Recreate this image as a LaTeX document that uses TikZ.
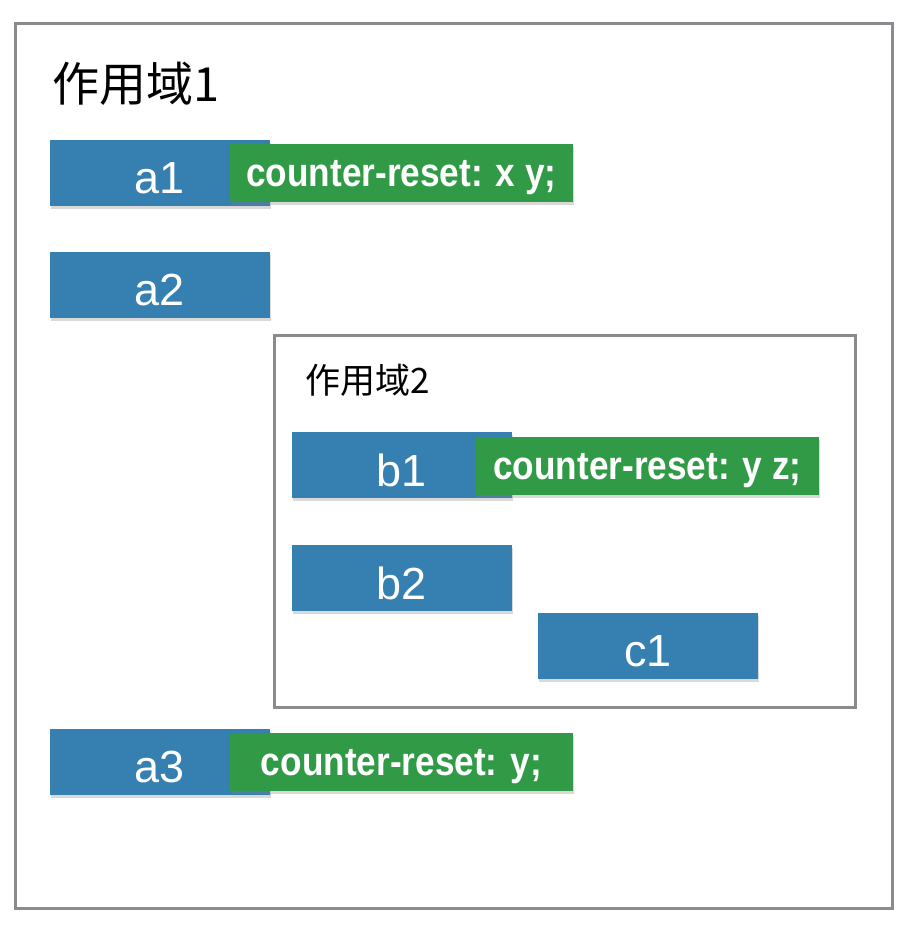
\documentclass[tikz,border=0pt]{standalone}
\usepackage{fontspec}
\setmainfont{Liberation Sans}
\newfontfamily\cjk{Noto Sans CJK SC}
\usetikzlibrary{shadows}
\definecolor{boxblue}{HTML}{3680B1}
\definecolor{boxgreen}{HTML}{319A47}
\definecolor{framegray}{HTML}{898B8F}
\tikzset{
  frame/.style={draw=framegray, line width=3pt},
  bluebox/.style={fill=boxblue, minimum width=220pt, minimum height=66pt, inner sep=0pt,
    text=white, font=\fontsize{45}{45}\selectfont,
    drop shadow={opacity=0.3, shadow xshift=1pt, shadow yshift=-3pt}},
  greenbox/.style={fill=boxgreen, minimum width=343pt, minimum height=58pt, inner sep=0pt,
    text=white, font=\bfseries\fontsize{40}{40}\selectfont,
    drop shadow={opacity=0.3, shadow xshift=1pt, shadow yshift=-3pt}},
  scopetitle/.style={anchor=west, inner sep=0pt, text=black},
}
\newcommand{\lbl}[1]{\raisebox{-5pt}[\height][\depth]{#1}}
\newcommand{\narrow}[1]{\raisebox{-5pt}[\height][\depth]{\scalebox{0.88}[1]{#1}}}
\begin{document}
\begin{tikzpicture}[x=1pt,y=-1pt]
\useasboundingbox (0,0) rectangle (910,935);
\draw[frame] (15,23) rectangle (892,908);
\node[scopetitle, font=\cjk\fontsize{47}{47}\selectfont] (t1) at (52,84) {作用域1};

\node[bluebox] (a1) at (160,173) {\lbl{a1}};
\node[greenbox] (ga1) at (401.5,173) {\narrow{counter-reset: x y;}};

\node[bluebox] (a2) at (160,285) {\lbl{a2}};

\draw[frame] (274,335) rectangle (855,707);
\node[scopetitle, font=\cjk\fontsize{35}{35}\selectfont] (t2) at (305,380) {作用域2};

\node[bluebox] (b1) at (402,465) {\lbl{b1}};
\node[greenbox] (gb1) at (647.5,465.5) {\narrow{counter-reset: y z;}};
\node[bluebox] (b2) at (402,578) {\lbl{b2}};
\node[bluebox] (c1) at (648,646) {\lbl{c1}};

\node[bluebox] (a3) at (160,761.5) {\lbl{a3}};
\node[greenbox] (ga3) at (401.5,761.5) {\narrow{counter-reset: y;}};
\end{tikzpicture}
\end{document}
